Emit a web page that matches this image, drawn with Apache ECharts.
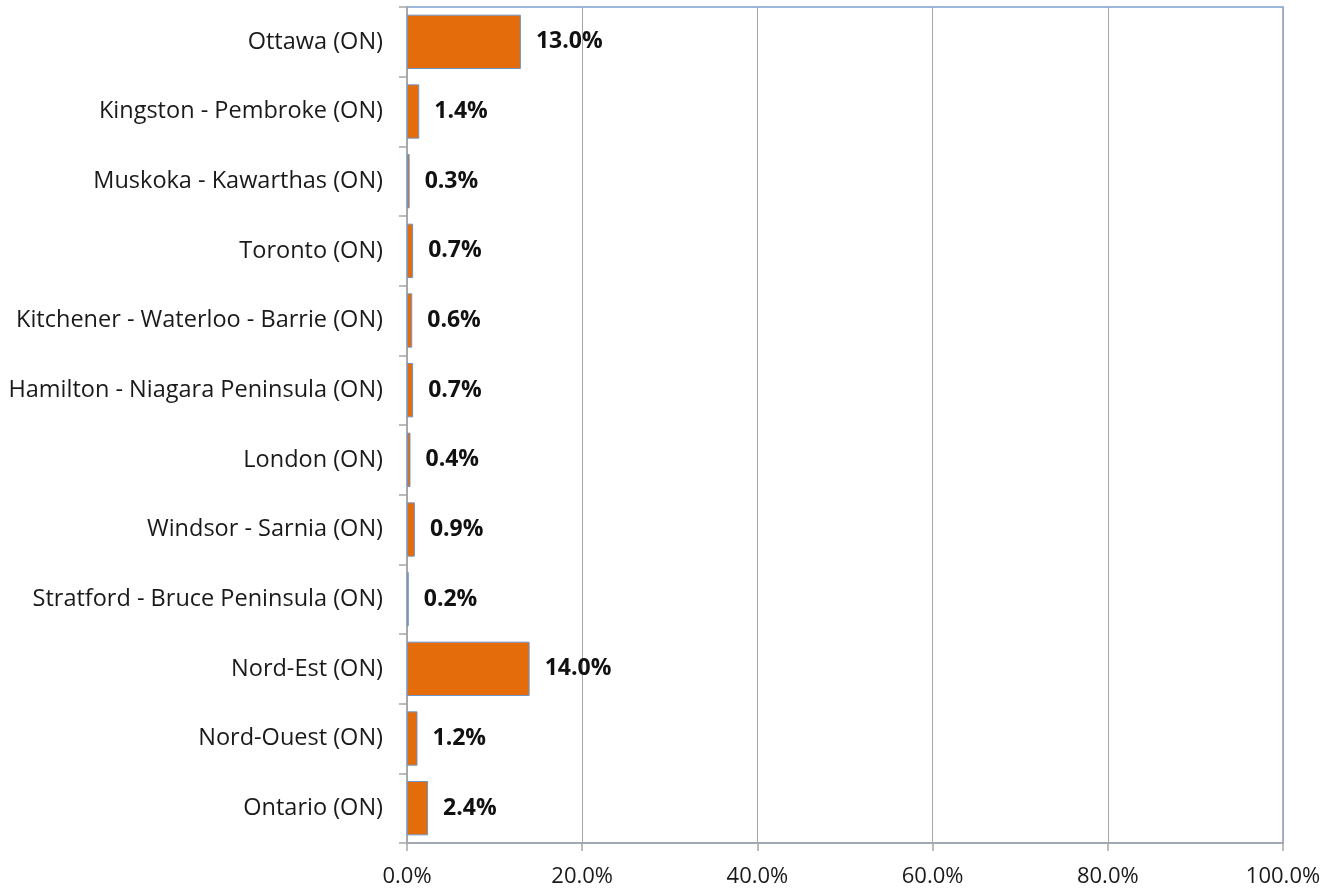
<!DOCTYPE html>
<html>
<head>
<meta charset="utf-8">
<script src="https://cdn.jsdelivr.net/npm/echarts@6/dist/echarts.min.js"></script>
<style>
  html, body { margin: 0; padding: 0; background: #fff; }
  #chart { width: 1326px; height: 890px; }
</style>
</head>
<body>
<div id="chart"></div>
<script>
const regions = [
  "Ottawa (ON)",
  "Kingston - Pembroke (ON)",
  "Muskoka - Kawarthas (ON)",
  "Toronto (ON)",
  "Kitchener - Waterloo - Barrie (ON)",
  "Hamilton - Niagara Peninsula (ON)",
  "London (ON)",
  "Windsor - Sarnia (ON)",
  "Stratford - Bruce Peninsula (ON)",
  "Nord-Est (ON)",
  "Nord-Ouest (ON)",
  "Ontario (ON)"
];
const shares = [13.0, 1.4, 0.3, 0.7, 0.6, 0.7, 0.4, 0.9, 0.2, 14.0, 1.2, 2.4];

const font = "'Open Sans', 'Liberation Sans', sans-serif";

const myChart = echarts.init(document.getElementById("chart"));

const option = {
  animation: false,
  grid: {
    left: 407,
    right: 43,
    top: 7,
    bottom: 47,
    show: true,
    borderColor: "#7f9fcf",
    borderWidth: 1.5
  },
  xAxis: {
    type: "value",
    min: 0,
    max: 100,
    interval: 20,
    axisLine: { show: true, lineStyle: { color: "#a6a6a6", width: 1.5 } },
    axisTick: { show: true, length: 8, lineStyle: { color: "#a6a6a6", width: 1.5 } },
    splitLine: { show: true, lineStyle: { color: "#a6a6a6", width: 1 } },
    axisLabel: {
      color: "#1a1a1a",
      fontFamily: font,
      fontSize: 22,
      margin: 23,
      formatter: (v) => v.toFixed(1) + "%"
    }
  },
  yAxis: {
    type: "category",
    inverse: true,
    data: regions,
    axisLine: { show: true, lineStyle: { color: "#a6a6a6", width: 1.5 } },
    axisTick: { show: true, length: 8, lineStyle: { color: "#a6a6a6", width: 1.5 } },
    axisLabel: {
      color: "#1a1a1a",
      fontFamily: font,
      fontSize: 23.5,
      margin: 24,
      padding: [6, 0, 0, 0]
    }
  },
  series: [
    {
      type: "bar",
      data: shares,
      barCategoryGap: "22%",
      itemStyle: {
        color: "#e46c0a",
        borderColor: "#6f95c8",
        borderWidth: 1
      },
      label: {
        show: true,
        position: "right",
        distance: 15,
        color: "#111",
        fontFamily: font,
        fontWeight: "bold",
        fontSize: 23,
        padding: [6, 0, 0, 0],
        formatter: (p) => p.value.toFixed(1) + "%"
      }
    }
  ]
};

option && myChart.setOption(option);
</script>
</body>
</html>
